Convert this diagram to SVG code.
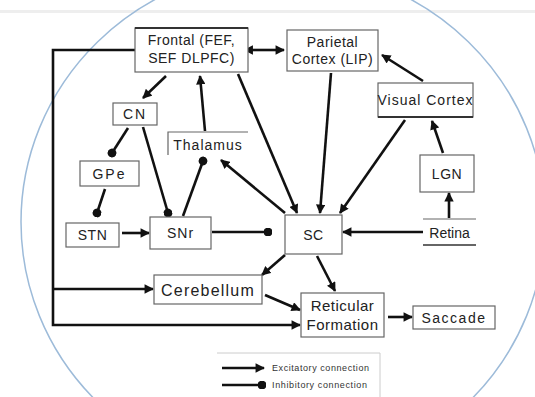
<svg xmlns="http://www.w3.org/2000/svg" width="535" height="397" viewBox="0 0 535 397">
<defs>
<marker id="ah" viewBox="0 0 10 10" refX="9" refY="5" markerWidth="3.8" markerHeight="3.6" orient="auto" markerUnits="strokeWidth"><path d="M0,0 L10,5 L0,10 z" fill="#111"/></marker>
<marker id="ahs" viewBox="0 0 10 10" refX="1" refY="5" markerWidth="3.8" markerHeight="3.6" orient="auto-start-reverse" markerUnits="strokeWidth"><path d="M0,0 L10,5 L0,10 z" fill="#111"/></marker>
<marker id="dot" viewBox="0 0 10 10" refX="5" refY="5" markerWidth="3.4" markerHeight="3.4" orient="auto" markerUnits="strokeWidth"><circle cx="5" cy="5" r="5" fill="#111"/></marker>
</defs>
<style>
.box{fill:#fff;stroke:#666;stroke-width:1.2}
.t{font-family:"Liberation Sans",Arial,sans-serif;font-size:14px;fill:#222;text-anchor:middle;letter-spacing:0.5px}
.c{fill:none;stroke:#111;stroke-width:2.6}
.ex{marker-end:url(#ah)}
.in{marker-end:url(#dot)}
.lg{font-family:"Liberation Sans",Arial,sans-serif;font-size:9px;fill:#333}
</style>
<rect width="535" height="397" fill="#fff"/>
<rect x="0" y="10" width="535" height="3" fill="#eee"/>
<ellipse cx="283" cy="222" rx="262" ry="255" fill="none" stroke="#9dbbd9" stroke-width="1.5"/>

<g id="connectors">
<polyline class="c ex" points="135,50 53,50 53,325 300,325"/>
<line class="c ex" x1="53" y1="289" x2="153" y2="289"/>
<line class="c" x1="252" y1="50" x2="284" y2="50" marker-start="url(#ahs)" marker-end="url(#ah)"/>
<line class="c ex" x1="166" y1="76" x2="143" y2="98"/>
<line class="c ex" x1="205" y1="131" x2="200" y2="76"/>
<line class="c ex" x1="238" y1="74" x2="297" y2="213"/>
<line class="c ex" x1="331" y1="73" x2="320" y2="213"/>
<line class="c ex" x1="405" y1="120" x2="340" y2="213"/>
<line class="c ex" x1="423" y1="81" x2="382" y2="55"/>
<line class="c ex" x1="443" y1="153" x2="432" y2="121"/>
<line class="c ex" x1="449" y1="218" x2="449" y2="193"/>
<line class="c ex" x1="423" y1="232" x2="343" y2="232"/>
<line class="c in" x1="128" y1="128" x2="112" y2="153"/>
<line class="c in" x1="143" y1="127" x2="168" y2="213"/>
<line class="c in" x1="105" y1="189" x2="97" y2="213"/>
<line class="c in" x1="183" y1="216" x2="203" y2="161"/>
<line class="c ex" x1="122" y1="233" x2="149" y2="233"/>
<line class="c in" x1="212" y1="232" x2="268" y2="232"/>
<line class="c ex" x1="285" y1="213" x2="221" y2="160"/>
<line class="c ex" x1="285" y1="255" x2="262" y2="275"/>
<line class="c ex" x1="317" y1="256" x2="335" y2="291"/>
<line class="c ex" x1="265" y1="295" x2="300" y2="310"/>
<line class="c ex" x1="388" y1="317" x2="412" y2="317"/>
</g>

<g id="frontal"><rect class="box" x="135" y="28" width="113" height="44"/><line x1="135" y1="28" x2="248" y2="28" stroke="#333" stroke-width="2"/><text class="t" x="191.5" y="45">Frontal (FEF,</text><text class="t" x="191.5" y="63">SEF DLPFC)</text></g>
<g id="parietal"><rect class="box" x="287" y="30" width="91" height="41"/><text class="t" x="332.5" y="47">Parietal</text><text class="t" x="332.5" y="64">Cortex (LIP)</text></g>
<g id="visual"><rect class="box" x="378" y="83" width="95" height="34"/><line x1="378" y1="117" x2="473" y2="117" stroke="#333" stroke-width="2"/><text class="t" x="425.5" y="105" style="letter-spacing:1px">Visual Cortex</text></g>
<g id="cn"><rect class="box" x="113" y="103" width="44" height="22"/><text class="t" x="135" y="119" style="letter-spacing:2px">CN</text></g>
<g id="thalamus"><polyline points="168,155 168,132 248,132" fill="none" stroke="#666" stroke-width="1.2"/><text class="t" x="208" y="150" style="letter-spacing:1px">Thalamus</text></g>
<g id="gpe"><rect class="box" x="80" y="161" width="59" height="25"/><text class="t" x="109.5" y="178.5" style="letter-spacing:2px">GPe</text></g>
<g id="stn"><rect class="box" x="66" y="223" width="53" height="24"/><text class="t" x="92.5" y="240">STN</text></g>
<g id="snr"><rect class="box" x="150" y="217" width="61" height="32"/><text class="t" x="180.5" y="238" style="letter-spacing:1px">SNr</text></g>
<g id="sc"><rect class="box" x="285" y="215" width="57" height="39"/><text class="t" x="313.5" y="239.5">SC</text></g>
<g id="lgn"><rect class="box" x="420" y="155" width="54" height="37"/><text class="t" x="447" y="178.5">LGN</text></g>
<g id="retina"><line x1="423" y1="219" x2="476" y2="219" stroke="#666" stroke-width="1.2"/><line x1="423" y1="245" x2="476" y2="245" stroke="#333" stroke-width="1.5"/><text class="t" x="449.5" y="237.5" style="letter-spacing:0">Retina</text></g>
<g id="cerebellum"><rect class="box" x="154" y="275" width="108" height="29"/><text class="t" x="208" y="295.5" style="font-size:16px;letter-spacing:1.2px">Cerebellum</text></g>
<g id="reticular"><rect class="box" x="301" y="293" width="83" height="44"/><text class="t" x="342.5" y="311" style="font-size:15px">Reticular</text><text class="t" x="342.5" y="330" style="font-size:15px">Formation</text></g>
<g id="saccade"><rect class="box" x="413" y="306" width="82" height="23"/><text class="t" x="454" y="322.5" style="letter-spacing:1.5px">Saccade</text></g>

<g id="legend">
<polyline points="217,353 380,353 380,397" fill="none" stroke="#ccc" stroke-width="1"/>
<line class="c ex" x1="222" y1="368" x2="264" y2="368"/>
<line class="c in" x1="222" y1="385" x2="262" y2="385"/>
<text class="lg" x="272" y="371" textLength="97">Excitatory connection</text>
<text class="lg" x="272" y="388" textLength="95">Inhibitory connection</text>
</g>
</svg>
